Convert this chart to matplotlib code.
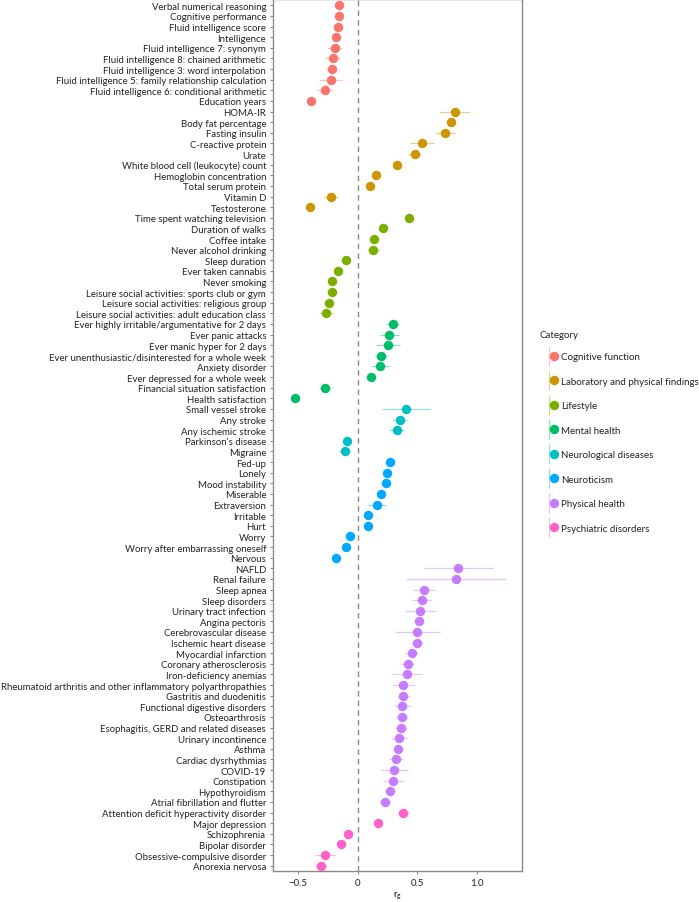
import matplotlib

matplotlib.use("Agg")
import matplotlib.pyplot as plt
from matplotlib.legend_handler import HandlerTuple
from matplotlib.lines import Line2D

CATEGORIES = [
    "Cognitive function",
    "Laboratory and physical findings",
    "Lifestyle",
    "Mental health",
    "Neurological diseases",
    "Neuroticism",
    "Physical health",
    "Psychiatric disorders",
]

COLORS = {
    "Cognitive function": "#F8766D",
    "Laboratory and physical findings": "#CD9600",
    "Lifestyle": "#7CAE00",
    "Mental health": "#00BE67",
    "Neurological diseases": "#00BFC4",
    "Neuroticism": "#00A9FF",
    "Physical health": "#C77CFF",
    "Psychiatric disorders": "#FF61CC",
}

# rows top to bottom, grouped by category
traits = [
    "Verbal numerical reasoning", "Cognitive performance", "Fluid intelligence score",
    "Intelligence", "Fluid intelligence 7: synonym", "Fluid intelligence 8: chained arithmetic",
    "Fluid intelligence 3: word interpolation",
    "Fluid intelligence 5: family relationship calculation",
    "Fluid intelligence 6: conditional arithmetic", "Education years",
    "HOMA-IR", "Body fat percentage", "Fasting insulin", "C-reactive protein", "Urate",
    "White blood cell (leukocyte) count", "Hemoglobin concentration", "Total serum protein",
    "Vitamin D", "Testosterone",
    "Time spent watching television", "Duration of walks", "Coffee intake",
    "Never alcohol drinking", "Sleep duration", "Ever taken cannabis", "Never smoking",
    "Leisure social activities: sports club or gym",
    "Leisure social activities: religious group",
    "Leisure social activities: adult education class",
    "Ever highly irritable/argumentative for 2 days", "Ever panic attacks",
    "Ever manic hyper for 2 days", "Ever unenthusiastic/disinterested for a whole week",
    "Anxiety disorder", "Ever depressed for a whole week", "Financial situation satisfaction",
    "Health satisfaction",
    "Small vessel stroke", "Any stroke", "Any ischemic stroke", "Parkinson's disease",
    "Migraine",
    "Fed-up", "Lonely", "Mood instability", "Miserable", "Extraversion", "Irritable", "Hurt",
    "Worry", "Worry after embarrassing oneself", "Nervous",
    "NAFLD", "Renal failure", "Sleep apnea", "Sleep disorders", "Urinary tract infection",
    "Angina pectoris", "Cerebrovascular disease", "Ischemic heart disease",
    "Myocardial infarction", "Coronary atherosclerosis", "Iron-deficiency anemias",
    "Rheumatoid arthritis and other inflammatory polyarthropathies",
    "Gastritis and duodenitis", "Functional digestive disorders", "Osteoarthrosis",
    "Esophagitis, GERD and related diseases", "Urinary incontinence", "Asthma",
    "Cardiac dysrhythmias", "COVID-19", "Constipation", "Hypothyroidism",
    "Atrial fibrillation and flutter",
    "Attention deficit hyperactivity disorder", "Major depression", "Schizophrenia",
    "Bipolar disorder", "Obsessive-compulsive disorder", "Anorexia nervosa",
]

group_sizes = [10, 10, 10, 8, 5, 10, 23, 6]

rg = [
    -0.155, -0.160, -0.168, -0.185, -0.193, -0.210, -0.218, -0.227, -0.272, -0.387,
    0.815, 0.780, 0.734, 0.540, 0.479, 0.331, 0.151, 0.106, -0.224, -0.403,
    0.431, 0.216, 0.137, 0.132, -0.098, -0.162, -0.213, -0.218, -0.240, -0.263,
    0.293, 0.263, 0.254, 0.193, 0.184, 0.112, -0.277, -0.528,
    0.405, 0.355, 0.327, -0.087, -0.109,
    0.274, 0.246, 0.237, 0.193, 0.159, 0.087, 0.087, -0.067, -0.098, -0.179,
    0.844, 0.824, 0.555, 0.540, 0.524, 0.510, 0.501, 0.501, 0.454, 0.420, 0.412,
    0.384, 0.384, 0.375, 0.375, 0.364, 0.347, 0.342, 0.322, 0.308, 0.300, 0.275, 0.227,
    0.378, 0.170, -0.078, -0.137, -0.274, -0.310,
]

# half width of the 95% interval
ci = [
    0.030, 0.020, 0.030, 0.030, 0.065, 0.065, 0.045, 0.095, 0.065, 0.020,
    0.130, 0.030, 0.085, 0.100, 0.055, 0.030, 0.030, 0.030, 0.060, 0.020,
    0.030, 0.030, 0.025, 0.055, 0.020, 0.030, 0.030, 0.040, 0.030, 0.060,
    0.053, 0.080, 0.100, 0.050, 0.075, 0.040, 0.050, 0.020,
    0.205, 0.065, 0.065, 0.030, 0.048,
    0.020, 0.020, 0.020, 0.020, 0.075, 0.020, 0.020, 0.020, 0.020, 0.020,
    0.290, 0.415, 0.090, 0.085, 0.130, 0.050, 0.190, 0.050, 0.055, 0.055, 0.125,
    0.100, 0.055, 0.070, 0.050, 0.050, 0.070, 0.040, 0.060, 0.115, 0.090, 0.035, 0.045,
    0.050, 0.020, 0.020, 0.030, 0.085, 0.050,
]

xticks = [-0.5, 0.0, 0.5, 1.0]
xtick_labels = ["\u22120.5", "0", "0.5", "1.0"]

plt.rcParams.update(
    {
        "font.family": ["Lato", "DejaVu Sans"],
        "font.size": 7,
        "axes.edgecolor": "#8a8a8a",
        "axes.linewidth": 1.0,
        "xtick.color": "#8a8a8a",
        "ytick.color": "#8a8a8a",
        "xtick.labelcolor": "#222222",
        "ytick.labelcolor": "#222222",
        "text.color": "#222222",
    }
)

row_cats = []
for cat, n in zip(CATEGORIES, group_sizes):
    row_cats.extend([cat] * n)
ypos = list(range(len(traits)))

fig = plt.figure(figsize=(6.99, 9.03), dpi=100)
ax = fig.add_axes([0.391, 0.0347, 0.3554, 0.965])

ax.axvline(0, color="#8a8a8a", linestyle=(0, (4, 3)), linewidth=1.0, zorder=1)
for y, val, half, cat in zip(ypos, rg, ci, row_cats):
    ax.hlines(y, val - half, val + half, color=COLORS[cat], alpha=0.45, linewidth=0.9, zorder=2)
    ax.plot(val, y, "o", color=COLORS[cat], markersize=6.8, markeredgewidth=0, zorder=3)

ax.set_yticks(ypos)
ax.set_yticklabels(traits, fontsize=6.9)
ax.set_ylim(81.47, -0.57)
ax.set_xlim(-0.707, 1.375)
ax.set_xticks(xticks)
ax.set_xticklabels(xtick_labels, fontsize=7)
ax.tick_params(axis="y", length=2.5, width=0.8, pad=2.6)
ax.tick_params(axis="x", length=2.5, width=0.8, pad=3)
ax.set_xlabel(r"r$_\mathregular{g}$", fontsize=7, labelpad=2)

handles = []
for cat in CATEGORIES:
    stem = Line2D([], [], marker="|", markersize=15, markeredgewidth=0.9,
                  color=COLORS[cat], alpha=0.45, linestyle="None")
    dot = Line2D([], [], marker="o", markersize=6.8, markeredgewidth=0,
                 color=COLORS[cat], linestyle="None")
    handles.append((stem, dot))

fig.text(539 / 699, 1 - 335 / 903, "Category", fontsize=7, va="center", ha="left")
fig.legend(
    handles,
    CATEGORIES,
    handler_map={tuple: HandlerTuple(ndivide=None, pad=0)},
    loc="upper left",
    bbox_to_anchor=(547 / 699, 1 - 353 / 903),
    frameon=False,
    fontsize=7,
    labelspacing=1.6,
    handlelength=1.0,
    handletextpad=0.45,
    borderaxespad=0,
    borderpad=0,
)

fig.savefig("out.png", dpi=100)
